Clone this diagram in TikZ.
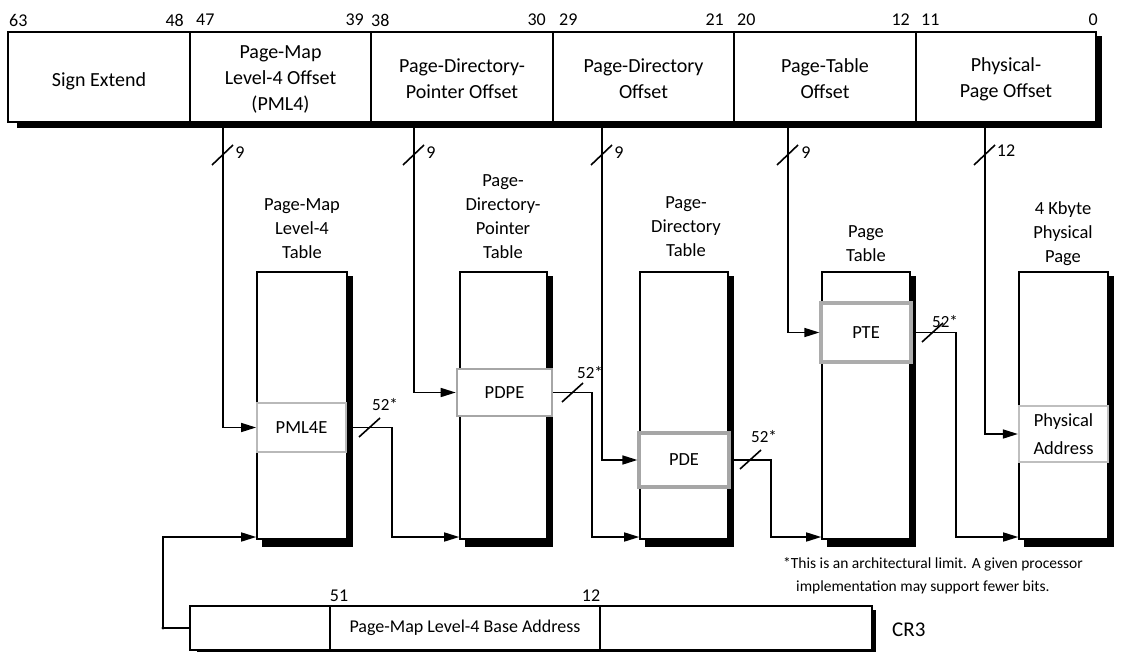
\documentclass[tikz,border=0pt]{standalone}
\usepackage{fontspec}
\setmainfont{Carlito}
\usetikzlibrary{arrows.meta,fit}
\begin{document}
\begin{tikzpicture}[x=1pt,y=-1pt,
  ln/.style={line width=1.6pt},
  arr/.style={ln,-{Triangle[length=15pt,width=9pt]}},
  fld/.style={draw,fill=white,line width=1.6pt,inner sep=0pt,fit={#1}},
  ftxt/.style={inner sep=0pt,align=center,font=\fontsize{20}{26}\selectfont},
  tbl/.style={draw,fill=white,line width=1.6pt,inner sep=0pt,fit={#1}},
  ent/.style={fill=white,inner sep=0pt,fit={#1}},
  etxt/.style={inner sep=0pt,align=center,font=\fontsize{18.5}{28}\selectfont},
  bitn/.style={inner sep=0pt,font=\fontsize{18}{20}\selectfont},
  ttl/.style={inner sep=0pt,align=center,font=\fontsize{18.5}{24}\selectfont},
  wl/.style={inner sep=0pt,font=\fontsize{18}{20}\selectfont},
  fl/.style={inner sep=0pt,font=\fontsize{17}{20}\selectfont},
  shd/.style={fill=black}
]
\useasboundingbox (0,0) rectangle (1134,652);

% ---------- top register ----------
\fill[shd] (17,36) rectangle (1102,128);
\node[fld={(8,32) (190,122)}] (se) {};
\node[fld={(190,32) (371,122)}] (f4) {};
\node[fld={(371,32) (553,122)}] (f3) {};
\node[fld={(553,32) (734,122)}] (f2) {};
\node[fld={(734,32) (916,122)}] (f1) {};
\node[fld={(916,32) (1096,122)}] (f0) {};
\node[ftxt] (tse) at ([yshift=-4pt]se.center) {Sign Extend};
\node[ftxt] (tf4) at ([yshift=-2pt]f4.center) {Page-Map\\Level-4 Offset\\(PML4)};
\node[ftxt] (tf3) at ([yshift=-2pt]f3.center) {Page-Directory-\\Pointer Offset};
\node[ftxt] (tf2) at ([yshift=-2pt]f2.center) {Page-Directory\\Offset};
\node[ftxt] (tf1) at ([yshift=-2pt]f1.center) {Page-Table\\Offset};
\node[ftxt] (tf0) at ([yshift=-2pt]f0.center) {Physical-\\Page Offset};

\node[bitn,anchor=west] (b63) at (9,20) {63};
\node[bitn,anchor=east] (b48) at (184,20) {48};
\node[bitn,anchor=west] (b47) at (196,20) {47};
\node[bitn,anchor=east] (b39) at (364,20) {39};
\node[bitn,anchor=west] (b38) at (371,20) {38};
\node[bitn,anchor=east] (b30) at (546,20) {30};
\node[bitn,anchor=west] (b29) at (559,20) {29};
\node[bitn,anchor=east] (b21) at (724,20) {21};
\node[bitn,anchor=west] (b20) at (737,20) {20};
\node[bitn,anchor=east] (b12) at (910,20) {12};
\node[bitn,anchor=west] (b11) at (921,20) {11};
\node[bitn,anchor=east] (b0) at (1098,20) {0};

% ---------- tables ----------
\fill[shd] (262,276) rectangle (353,547);
\node[tbl={(257,272) (347,539)}] (t4) {};
\fill[shd] (465,276) rectangle (553,547);
\node[tbl={(460,272) (547,539)}] (t3) {};
\fill[shd] (645,276) rectangle (734,547);
\node[tbl={(640,272) (728,539)}] (t2) {};
\fill[shd] (827,276) rectangle (916,547);
\node[tbl={(822,272) (910,539)}] (t1) {};
\fill[shd] (1024,276) rectangle (1114,547);
\node[tbl={(1019,272) (1108,539)}] (t0) {};

\node[ttl] (l4) at (302,229) {Page-Map\\Level-4\\Table};
\node[ttl] (l3) at (503,217) {Page-\\Directory-\\Pointer\\Table};
\node[ttl] (l2) at (686,227) {Page-\\Directory\\Table};
\node[ttl] (l1) at (866,244) {Page\\Table};
\node[ttl] (l0) at (1063,234) {4 Kbyte\\Physical\\Page};

% ---------- entries ----------
\node[ent={(257,403) (346,452)},draw=gray!55,line width=1.8pt] (e4) {};
\node[ent={(457,369) (552,416)},draw=gray!70,line width=2.6pt] (e3) {};
\node[ent={(639,433) (729,487)},draw=gray!70,line width=3.2pt] (e2) {};
\node[ent={(821,303) (911,362)},draw=gray!65,line width=3.2pt] (e1) {};
\node[ent={(1019,406) (1108,462)},draw=gray!50,line width=2.2pt] (e0) {};
\node[etxt] (te4) at (e4.center) {PML4E};
\node[etxt] (te3) at (e3.center) {PDPE};
\node[etxt] (te2) at (e2.center) {PDE};
\node[etxt] (te1) at (e1.center) {PTE};
\node[etxt] (te0) at (e0.center) {Physical\\Address};

% ---------- index lines from the virtual address ----------
\coordinate (v4) at (223,128);
\coordinate (v3) at (414,128);
\coordinate (v2) at (602,128);
\coordinate (v1) at (788,128);
\coordinate (v0) at (985,128);
\draw[arr] (v4) |- (e4.west);
\draw[arr] (v3) |- (e3.west);
\draw[arr] (v2) |- (e2.west);
\draw[arr] (v1) |- (e1.west);
\draw[arr] (v0) |- (e0.west);

\draw[ln] (212,165) -- (233,145);
\draw[ln] (403,165) -- (424,145);
\draw[ln] (591,165) -- (612,145);
\draw[ln] (777,165) -- (798,145);
\draw[ln] (974,165) -- (995,145);
\node[wl] (w4) at (240,153) {9};
\node[wl] (w3) at (431,153) {9};
\node[wl] (w2) at (619,153) {9};
\node[wl] (w1) at (806,153) {9};
\node[wl] (w0) at (1006,151) {12};

% ---------- base address lines ----------
\coordinate (k4) at (392,537);
\coordinate (k3) at (592,537);
\coordinate (k2) at (771,537);
\coordinate (k1) at (956,537);
\draw[arr] (e4.east) -| (k4) -- (t3.west |- k4);
\draw[arr] (e3.east) -| (k3) -- (t2.west |- k3);
\draw[arr] (e2.east) -| (k2) -- (t1.west |- k2);
\draw[arr] (e1.east) -| (k1) -- (t0.west |- k1);

\draw[ln] (359,437) -- (380,418);
\draw[ln] (562,402) -- (583,383);
\draw[ln] (740,469) -- (761,450);
\draw[ln] (922,342) -- (943,323);
\node[fl] (n4) at (385,405) {52*};
\node[fl] (n3) at (590,373) {52*};
\node[fl] (n2) at (764,437) {52*};
\node[fl] (n1) at (945,322) {52*};

% ---------- footnote ----------
\node[inner sep=0pt,anchor=west,font=\fontsize{15.5}{18}\selectfont] (fn1) at (783,564) {*This is an architectural limit. A given processor};
\node[inner sep=0pt,anchor=west,font=\fontsize{15.5}{18}\selectfont] (fn2) at (796,587) {implementation may support fewer bits.};

% ---------- CR3 ----------
\fill[shd] (197,610) rectangle (876,653);
\node[fld={(190,606) (330,650)}] (ca) {};
\node[fld={(330,606) (600,650)}] (cb) {};
\node[fld={(600,606) (872,650)}] (cc) {};
\node[ftxt,font=\fontsize{18}{20}\selectfont] (tcb) at (cb.center) {Page-Map Level-4 Base Address};
\node[inner sep=0pt,fit={(190,606) (872,650)}] (cr3) {};
\node[bitn] (c51) at (339,596) {51};
\node[bitn] (c12) at (591,596) {12};
\node[inner sep=0pt,anchor=west,font=\fontsize{21}{24}\selectfont] (cr3l) at (892,630) {CR3};

\coordinate (c0) at (163,537);
\draw[arr] (cr3.west) -| (c0) -- (t4.west |- c0);
\fill (163,628) circle (1.6);
\end{tikzpicture}
\end{document}
